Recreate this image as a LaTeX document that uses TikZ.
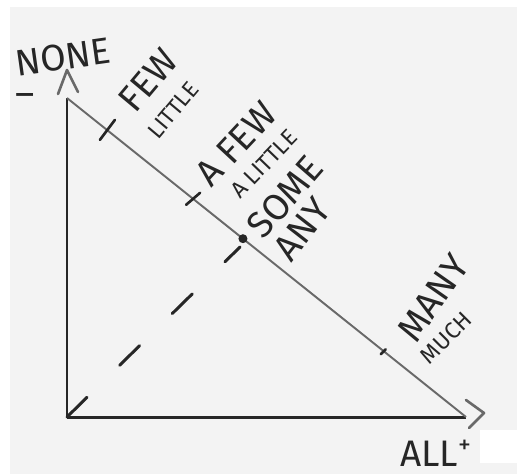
\documentclass[tikz,border=0pt]{standalone}
\usepackage{fontspec}
\setmainfont{Fira Sans}
\usetikzlibrary{arrows.meta,positioning}
\definecolor{ink}{RGB}{38,38,38}
\definecolor{pencil}{RGB}{105,105,105}
\definecolor{paper}{RGB}{243,243,243}
\tikzset{
  axis/.style={ink, line width=1.7pt},
  hyp/.style={pencil, line width=1.1pt},
  chev/.style={pencil, line width=1.5pt, line cap=round, line join=round},
  tick/.style={ink, line width=1.5pt, line cap=round},
  ray/.style={ink, line width=1.7pt, line cap=round, dash pattern=on 16pt off 26pt},
  lab/.style={font=\fontsize{21}{21}\selectfont, text=ink, inner sep=0pt},
  sublab/.style={lab, font=\fontsize{13}{13}\selectfont},
}

\begin{document}
\begin{tikzpicture}[x=0.02cm,y=-0.02cm]
\useasboundingbox (0,0) rectangle (517,474);
% paper
\fill[white] (0,0) rectangle (517,474);
\fill[paper] (10,7) rectangle (517,474);
\fill[white] (480,430) rectangle (517,463);

% axes
\coordinate (O) at (67,417);
\coordinate (T) at (67,98);
\coordinate (E) at (466,417);
\coordinate (up) at (67,70);
\coordinate (rt) at (484,413);
\draw[axis] (O) -- (T);
\draw[axis] (O) -- (E);
\draw[chev] (58,94) -- (up) -- (78,92);
\draw[chev] (466,400) -- (rt) -- (469,428);

% the scale
\draw[hyp] (T) -- (E);
\path (T) -- (E)
  coordinate[pos=0.10] (few)
  coordinate[pos=0.316] (afew)
  coordinate[pos=0.441] (some)
  coordinate[pos=0.794] (many);
\draw[tick] (few) ++(-7,10) -- ++(15,-20);
\draw[tick] (afew) ++(-7,6) -- ++(14,-12);
\draw[tick] (many) ++(-3,3) -- ++(5,-5);
\fill[ink] (some) circle (4.5);
\draw[ray] (O) -- (240,247);

% labels
\node[lab, rotate=8] (none) at (63,57) {NONE};
\node[lab] (minus) at (25,100) {–};
\node[lab, rotate=50] (lfew) at (148,80) {FEW};
\node[sublab, rotate=50] (llittle) at (173,110) {LITTLE};
\node[lab, rotate=47] (lafew) at (236,144) {A FEW};
\node[sublab, rotate=46] (lalittle) at (264,164) {A LITTLE};
\node[lab, rotate=49] (lsome) at (285,197) {SOME};
\node[lab, rotate=52] (lany) at (302,229) {ANY};
\node[lab, rotate=55] (lmany) at (433,298) {MANY};
\node[sublab, rotate=45] (lmuch) at (446,338) {MUCH};
\node[lab] (all) at (436,453) {ALL\textsuperscript{+}};
\end{tikzpicture}
\end{document}
